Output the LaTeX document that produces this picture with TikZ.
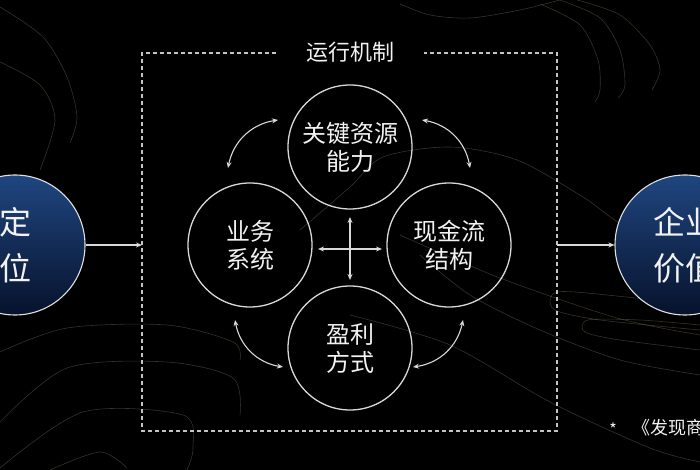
\documentclass[tikz,border=0pt]{standalone}
\usepackage{fontspec}
\newfontfamily\cjk{Noto Sans CJK SC}
\usepackage{tikz}
\usetikzlibrary{calc}
\usetikzlibrary{arrows.meta}

\definecolor{inkW}{HTML}{F2F2F2}
\definecolor{lineW}{HTML}{D8D8D8}
\definecolor{dashG}{HTML}{C4C4C4}
\definecolor{navyTop}{HTML}{1F4680}
\definecolor{navyBot}{HTML}{07122C}
\definecolor{swirl}{HTML}{7A6E55}

\begin{document}
\begin{tikzpicture}[x=1pt, y=1pt,
	ring/.style={circle, draw=lineW, line width=1.3pt, minimum size=124pt,
		align=center, text=inkW, font=\cjk\fontsize{24}{28}\selectfont},
	bigring/.style={circle, draw=lineW!80, line width=1.1pt, minimum size=140pt,
		top color=navyTop, bottom color=navyBot, shading angle=0,
		align=center, text=inkW, font=\cjk\fontsize{32}{46}\selectfont},
	twoway/.style={line width=1.1pt, lineW,
		{Stealth[length=6pt, width=5pt]}-{Stealth[length=6pt, width=5pt]}},
	oneway/.style={line width=1.1pt, lineW, -{Stealth[length=6pt, width=5pt]}},
	faint/.style={swirl, line width=0.6pt, opacity=0.45}]

\fill[black] (0,0) rectangle (700,470);
\useasboundingbox (0,0) rectangle (700,470);
\clip (0,0) rectangle (700,470);

% background swirls
\draw[faint] plot[smooth] coordinates {(0,463) (43,433) (67,393) (77,353) (70,327)};
\draw[faint] plot[smooth] coordinates {(0,408) (40,385) (55,350) (40,300)};
\draw[faint] plot[smooth] coordinates {(577,470) (620,455) (650,425) (660,400) (652,380)};
\draw[faint] plot[smooth] coordinates {(560,470) (600,452) (620,420) (625,385) (618,372)};
\draw[faint] plot[smooth] coordinates {(540,466) (580,445) (598,410) (600,380) (595,368)};
\draw[faint] plot[smooth] coordinates {(400,466) (430,455) (470,452) (520,460) (560,470)};
\draw[faint] plot[smooth] coordinates {(300,240) (350,283) (383,313) (450,323) (517,310) (583,273) (627,243) (700,220)};
\draw[faint] plot[smooth] coordinates {(0,118) (67,142) (167,145) (233,128) (240,110)};
\draw[faint] plot[smooth] coordinates {(0,48) (67,102) (167,108) (233,92) (240,55)};
\draw[faint] plot[smooth] coordinates {(0,2) (83,58) (183,55) (193,22) (187,0)};
\draw[faint] plot[smooth] coordinates {(50,0) (100,18) (127,2)};
\draw[faint] plot[smooth] coordinates {(350,155) (450,125) (550,68) (650,22) (700,8)};
\draw[faint] plot[smooth] coordinates {(400,235) (500,192) (617,152) (700,135)};
\draw[faint] plot[smooth] coordinates {(420,215) (470,175) (540,140) (620,110) (700,95)};
\draw[faint] plot[smooth] coordinates {(700,140) (600,150) (555,160) (552,175) (575,178) (700,165)};
\draw[faint] plot[smooth] coordinates {(700,120) (620,130) (585,138) (588,150) (640,150) (700,145)};

% dashed frame with title
\node[text=inkW, font=\cjk\fontsize{22}{26}\selectfont, inner xsep=30pt] (title) at (350,418) {运行机制};
\draw[dashG, line width=1.2pt, dash pattern=on 4pt off 3pt]
	(title.west |- 0,417) -- (142,417) -- (142,39) -- (557,39) -- (557,417) -- (title.east |- 0,417);
\coordinate (boxW) at (142,225);
\coordinate (boxE) at (557,225);

% four elements
\node[ring] (key) at (350,323) {关键资源\\能力};
\node[ring] (biz) at (250,225) {业务\\系统};
\node[ring] (cash) at (449,225) {现金流\\结构};
\node[ring] (profit) at (350,122) {盈利\\方式};

% outer elements
\node[bigring] (pos) at (15,225) {定\\位};
\node[bigring] (value) at (685,225) {企业\\价值};

\draw[oneway] (pos.east) -- (boxW);
\draw[oneway] (boxE) -- (value.west);

% links round the ring
\coordinate (tl1) at (228,302);
\coordinate (tl2) at (278,350);
\coordinate (tr1) at (422,350);
\coordinate (tr2) at (470,302);
\coordinate (br1) at (463,150);
\coordinate (br2) at (413,103);
\coordinate (bl1) at (283,103);
\coordinate (bl2) at (235,150);
\draw[twoway] (tl1) to[bend left=35] (tl2);
\draw[twoway] (tr1) to[bend left=35] (tr2);
\draw[twoway] (br1) to[bend left=35] (br2);
\draw[twoway] (bl1) to[bend left=35] (bl2);

% cross in the middle
\coordinate (hub) at (350,221);
\draw[twoway] ($(hub)+(-32,0)$) -- ($(hub)+(32,0)$);
\draw[twoway] ($(hub)+(0,32)$) -- ($(hub)+(0,-31)$);

% source note
\node[text=inkW, font=\cjk\fontsize{16}{18}\selectfont] (star) at (613,41) {*};
\node[anchor=west, text=inkW, font=\cjk\fontsize{18}{20}\selectfont, inner sep=0pt] (book) at (632,42) {《发现商业模式》};

\end{tikzpicture}
\end{document}
